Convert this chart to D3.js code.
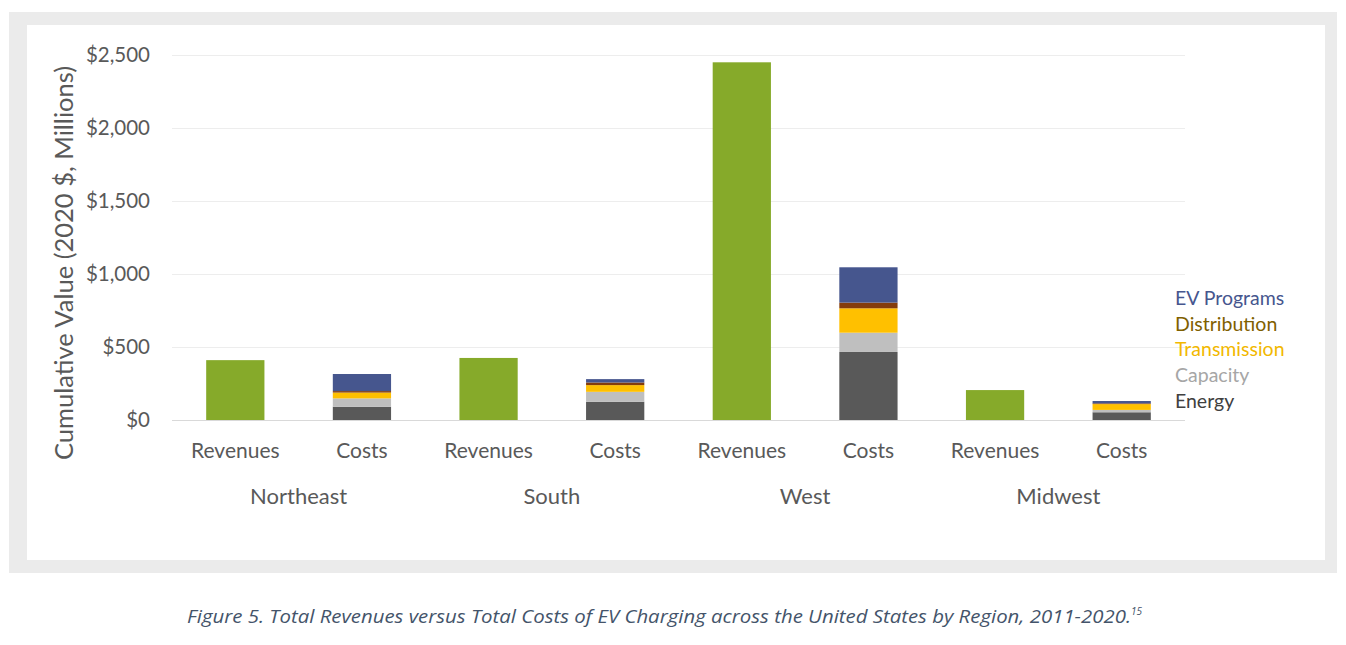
<!DOCTYPE html>
<html><head><meta charset="utf-8">
<script src="https://cdn.jsdelivr.net/npm/d3@7"></script>
<style>
html,body{margin:0;padding:0;background:#fff;}
svg{display:block;}
</style></head>
<body>
<svg id="chart" width="1346" height="645"></svg>
<script>
const regions = ["Northeast", "South", "West", "Midwest"];
const barTypes = ["Revenues", "Costs"];
const revenues = [410, 425, 2450, 205];
const energy = [91, 125, 466, 53];
const capacity = [57, 68, 132, 16];
const transmission = [40, 46, 167, 40];
const distribution = [10, 18, 39, 5];
const evPrograms = [117, 23, 242, 16];
const costSeries = ["Energy", "Capacity", "Transmission", "Distribution", "EV Programs"];
const yTicks = [0, 500, 1000, 1500, 2000, 2500];
const legendOrder = ["EV Programs", "Distribution", "Transmission", "Capacity", "Energy"];

const barColors = {"Revenues":"#86aa2a","Energy":"#595959","Capacity":"#bfbfbf","Transmission":"#ffc000","Distribution":"#843c0c","EV Programs":"#46568e"};
const legendColors = {"EV Programs":"#46568e","Distribution":"#7f6000","Transmission":"#f2b800","Capacity":"#a6a6a6","Energy":"#404040"};

(function(){
const svg = d3.select("#chart");
const font = "Lato, 'Open Sans', sans-serif";

svg.append("rect").attr("x",9).attr("y",12).attr("width",1328).attr("height",561).attr("fill","#ebebeb");
svg.append("rect").attr("x",27).attr("y",25).attr("width",1298).attr("height",535).attr("fill","#fff");

const pLeft = 172, pRight = 1185, pTop = 55, pBottom = 420;
const slots = [];
regions.forEach(r => barTypes.forEach(t => slots.push(r + "|" + t)));
const x = d3.scaleBand().domain(slots).range([pLeft, pRight]).paddingInner(0.54).paddingOuter(0.27);
const y = d3.scaleLinear().domain([0, 2500]).range([pBottom, pTop]);

const yAxis = d3.axisLeft(y).tickValues(yTicks).tickSize(-(pRight-pLeft)).tickPadding(22)
  .tickFormat(d => "$" + d3.format(",")(d));
const gy = svg.append("g").attr("transform", `translate(${pLeft},0)`).call(yAxis);
gy.select(".domain").remove();
gy.selectAll(".tick line").attr("stroke", d => d === 0 ? "#d9d9d9" : "#ededed").attr("stroke-width",1);
gy.selectAll(".tick text").attr("fill","#595959").attr("font-family",font).attr("font-size",20.5);

const rows = regions.map((r,i) => ({region:r, "Energy":energy[i], "Capacity":capacity[i], "Transmission":transmission[i], "Distribution":distribution[i], "EV Programs":evPrograms[i]}));
const stack = d3.stack().keys(costSeries)(rows);

svg.append("g").selectAll("rect").data(regions).join("rect")
  .attr("x", r => x(r + "|Revenues"))
  .attr("width", x.bandwidth())
  .attr("y", (r,i) => y(revenues[i]))
  .attr("height", (r,i) => y(0) - y(revenues[i]))
  .attr("fill", barColors["Revenues"]);

stack.forEach(layer => {
  svg.append("g").selectAll("rect").data(layer).join("rect")
    .attr("x", d => x(d.data.region + "|Costs"))
    .attr("width", x.bandwidth())
    .attr("y", d => y(d[1]))
    .attr("height", d => y(d[0]) - y(d[1]))
    .attr("fill", barColors[layer.key]);
});

svg.append("g").selectAll("text").data(slots).join("text")
  .attr("x", s => x(s) + x.bandwidth()/2)
  .attr("y", 458)
  .attr("text-anchor","middle")
  .attr("fill","#595959").attr("font-family",font).attr("font-size",21)
  .text(s => s.split("|")[1]);

svg.append("g").selectAll("text").data(regions).join("text")
  .attr("x", r => (x(r + "|Revenues") + x(r + "|Costs") + x.bandwidth())/2)
  .attr("y", 504)
  .attr("text-anchor","middle")
  .attr("fill","#595959").attr("font-family",font).attr("font-size",22)
  .text(r => r);

svg.append("text")
  .attr("transform","translate(73,263) rotate(-90)")
  .attr("text-anchor","middle")
  .attr("fill","#595959").attr("font-family",font).attr("font-size",25.5)
  .text("Cumulative Value (2020 $, Millions)");

svg.append("g").selectAll("text").data(legendOrder).join("text")
  .attr("x", 1175)
  .attr("y", (d,i) => 305 + i*25.7)
  .attr("fill", d => legendColors[d]).attr("font-family",font).attr("font-size",19.5)
  .text(d => d);

const cap = svg.append("text")
  .attr("x", 187).attr("y", 623).attr("text-anchor","start")
  .attr("fill","#44546a").attr("font-family","'Open Sans', sans-serif").attr("font-size",17.5).attr("font-style","italic");
cap.append("tspan").attr("textLength", 944).attr("lengthAdjust","spacingAndGlyphs")
  .text("Figure 5. Total Revenues versus Total Costs of EV Charging across the United States by Region, 2011-2020.");
cap.append("tspan").attr("font-size",10).attr("dy",-8).text("15");
})();
</script>
</body></html>
